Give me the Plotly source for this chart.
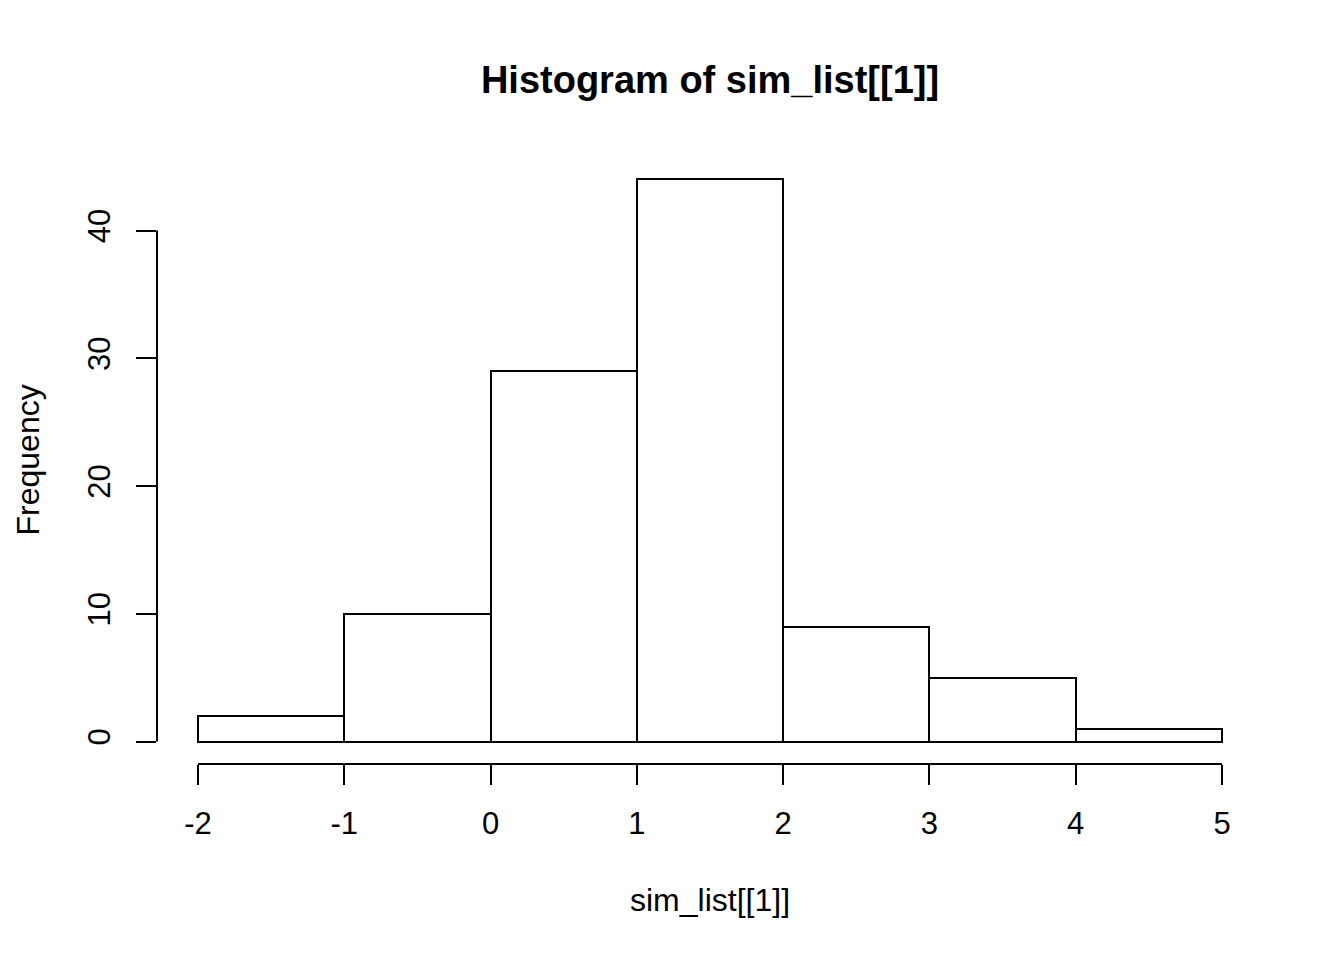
import plotly.graph_objects as go

# Data
breaks = [-2, -1, 0, 1, 2, 3, 4, 5]
counts = [2, 10, 29, 44, 9, 5, 1]
x_ticks = [-2, -1, 0, 1, 2, 3, 4, 5]
y_ticks = [0, 10, 20, 30, 40]

title_text = "Histogram of sim_list[[1]]"
x_label = "sim_list[[1]]"
y_label = "Frequency"

centers = [(breaks[i] + breaks[i + 1]) / 2 for i in range(len(counts))]
widths = [breaks[i + 1] - breaks[i] for i in range(len(counts))]

FONT = "Liberation Sans, Arial, Helvetica, sans-serif"

fig = go.Figure()
fig.add_trace(go.Bar(
    x=centers, y=counts, width=widths,
    marker=dict(color="white", line=dict(color="black", width=2)),
    showlegend=False, hoverinfo="x+y",
))

# R-style axis ranges (4% padding)
xmin, xmax = min(breaks), max(breaks)
ymax = max(counts)
xpad = 0.04 * (xmax - xmin)
ypad = 0.04 * ymax

fig.update_layout(
    width=1344, height=960,
    margin=dict(l=149, r=89, t=149, b=204, pad=0),
    paper_bgcolor="white", plot_bgcolor="white",
    font=dict(family=FONT, size=31, color="black"),
    bargap=0,
    xaxis=dict(
        range=[xmin - xpad, xmax + xpad], tickvals=x_ticks,
        ticktext=[str(v) for v in x_ticks],
        ticks="outside", ticklen=20, tickwidth=2, tickcolor="black",
        showgrid=False, zeroline=False, showline=False,
        tickfont=dict(size=31), fixedrange=True, ticklabelstandoff=12,
    ),
    yaxis=dict(
        range=[-ypad, ymax + ypad], tickvals=y_ticks,
        ticktext=[str(v) for v in y_ticks],
        ticks="outside", ticklen=20, tickwidth=2, tickcolor="black",
        showgrid=False, zeroline=False, showline=False,
        tickangle=-90, tickfont=dict(size=31), fixedrange=True, ticklabelstandoff=14,
    ),
    title=dict(
        text="<b>" + title_text + "</b>", x=0.5, xref="paper",
        y=1 - 72 / 960, yref="container", yanchor="middle", xanchor="center",
        font=dict(size=38, family=FONT, color="black"),
    ),
)

# axis lines spanning only the tick range, like base R
fig.add_shape(type="line", xref="x", yref="paper", x0=x_ticks[0], x1=x_ticks[-1], y0=0, y1=0,
              line=dict(color="black", width=2))
fig.add_shape(type="line", xref="paper", yref="y", x0=0, x1=0, y0=y_ticks[0], y1=y_ticks[-1],
              line=dict(color="black", width=2))

fig.add_annotation(text=x_label, x=0.5, xref="paper", y=0, yref="paper",
                   yanchor="middle", xanchor="center", yshift=-136, showarrow=False,
                   font=dict(size=32))
fig.add_annotation(text=y_label, x=0, xref="paper", y=0.5, yref="paper",
                   xanchor="center", yanchor="middle", xshift=-130, textangle=-90,
                   showarrow=False, font=dict(size=32))

fig.write_html("out.html")
